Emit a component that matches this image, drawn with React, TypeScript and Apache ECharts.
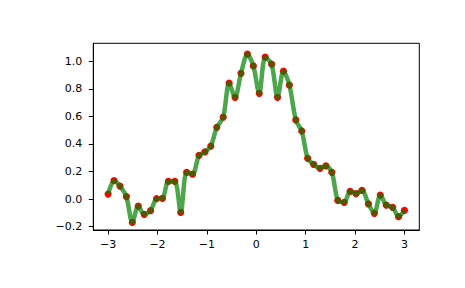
import React, { useEffect, useRef } from "react";
import * as echarts from "echarts";

const xValues = [
  -3, -2.88, -2.76, -2.63, -2.51, -2.39, -2.27, -2.14, -2.02, -1.9, -1.78, -1.65, -1.53, -1.41, -1.29, -1.16, -1.04,
  -0.92, -0.8, -0.67, -0.55, -0.43, -0.31, -0.18, -0.06, 0.06, 0.18, 0.31, 0.43, 0.55, 0.67, 0.8, 0.92, 1.04, 1.16,
  1.29, 1.41, 1.53, 1.65, 1.78, 1.9, 2.02, 2.14, 2.27, 2.39, 2.51, 2.63, 2.76, 2.88, 3,
];
const yValues = [
  0.036, 0.133, 0.094, 0.017, -0.17, -0.051, -0.111, -0.085, 0.002, 0.005, 0.128, 0.128, -0.097, 0.194, 0.18, 0.317,
  0.342, 0.385, 0.521, 0.594, 0.841, 0.739, 0.913, 1.052, 0.967, 0.768, 1.03, 0.979, 0.739, 0.928, 0.828, 0.574,
  0.494, 0.296, 0.252, 0.223, 0.24, 0.194, -0.01, -0.024, 0.056, 0.039, 0.063, -0.036, -0.104, 0.029, -0.044, -0.06,
  -0.128, -0.082,
];
const xTicks = [-3, -2, -1, 0, 1, 2, 3];
const yTicks = [-0.2, 0, 0.2, 0.4, 0.6, 0.8, 1.0];

const fmtMinus = (s: string) => s.replace("-", "\u2212");

export default function App() {
  const ref = useRef<HTMLDivElement>(null);
  useEffect(() => {
    if (!ref.current) return;
    const chart = echarts.init(ref.current, null, { renderer: "svg" });
    const pts = xValues.map((x, i) => [x, yValues[i]]);
    const font = { fontFamily: "DejaVu Sans", fontSize: 11, color: "#000" };
    chart.setOption({
      animation: false,
      backgroundColor: "#fff",
      grid: {
        left: 93.3,
        right: 45.7,
        top: 43.3,
        bottom: 58,
        show: true,
        borderColor: "#000",
        borderWidth: 1,
        backgroundColor: "transparent",
      },
      xAxis: {
        type: "value",
        min: -3.3,
        max: 3.3,
        splitLine: { show: false },
        axisLine: { show: true, onZero: false, lineStyle: { color: "#000", width: 1 } },
        axisTick: { show: true, length: 4.5, lineStyle: { color: "#000" }, customValues: xTicks },
        axisLabel: {
          ...font,
          margin: 9,
          customValues: xTicks,
          formatter: (v: number) => fmtMinus(String(Math.round(v))),
        },
      },
      yAxis: {
        type: "value",
        min: -0.225,
        max: 1.131,
        splitLine: { show: false },
        axisLine: { show: true, onZero: false, lineStyle: { color: "#000", width: 1 } },
        axisTick: { show: true, length: 4.5, lineStyle: { color: "#000" }, customValues: yTicks },
        axisLabel: {
          ...font,
          margin: 11,
          customValues: yTicks,
          formatter: (v: number) => fmtMinus(v.toFixed(1)),
        },
      },
      series: [
        {
          type: "scatter",
          data: pts,
          symbol: "circle",
          symbolSize: 7.2,
          itemStyle: { color: "#ff0000", opacity: 1 },
          z: 2,
        },
        {
          type: "line",
          data: pts,
          smooth: 0.3,
          showSymbol: false,
          symbol: "none",
          lineStyle: { color: "#008000", width: 4.5, opacity: 0.7 },
          z: 3,
        },
      ],
    });
    return () => chart.dispose();
  }, []);
  return (
    <div
      ref={ref}
      style={{ position: "fixed", left: 0, top: 0, width: 465, height: 288, background: "#fff" }}
    />
  );
}
